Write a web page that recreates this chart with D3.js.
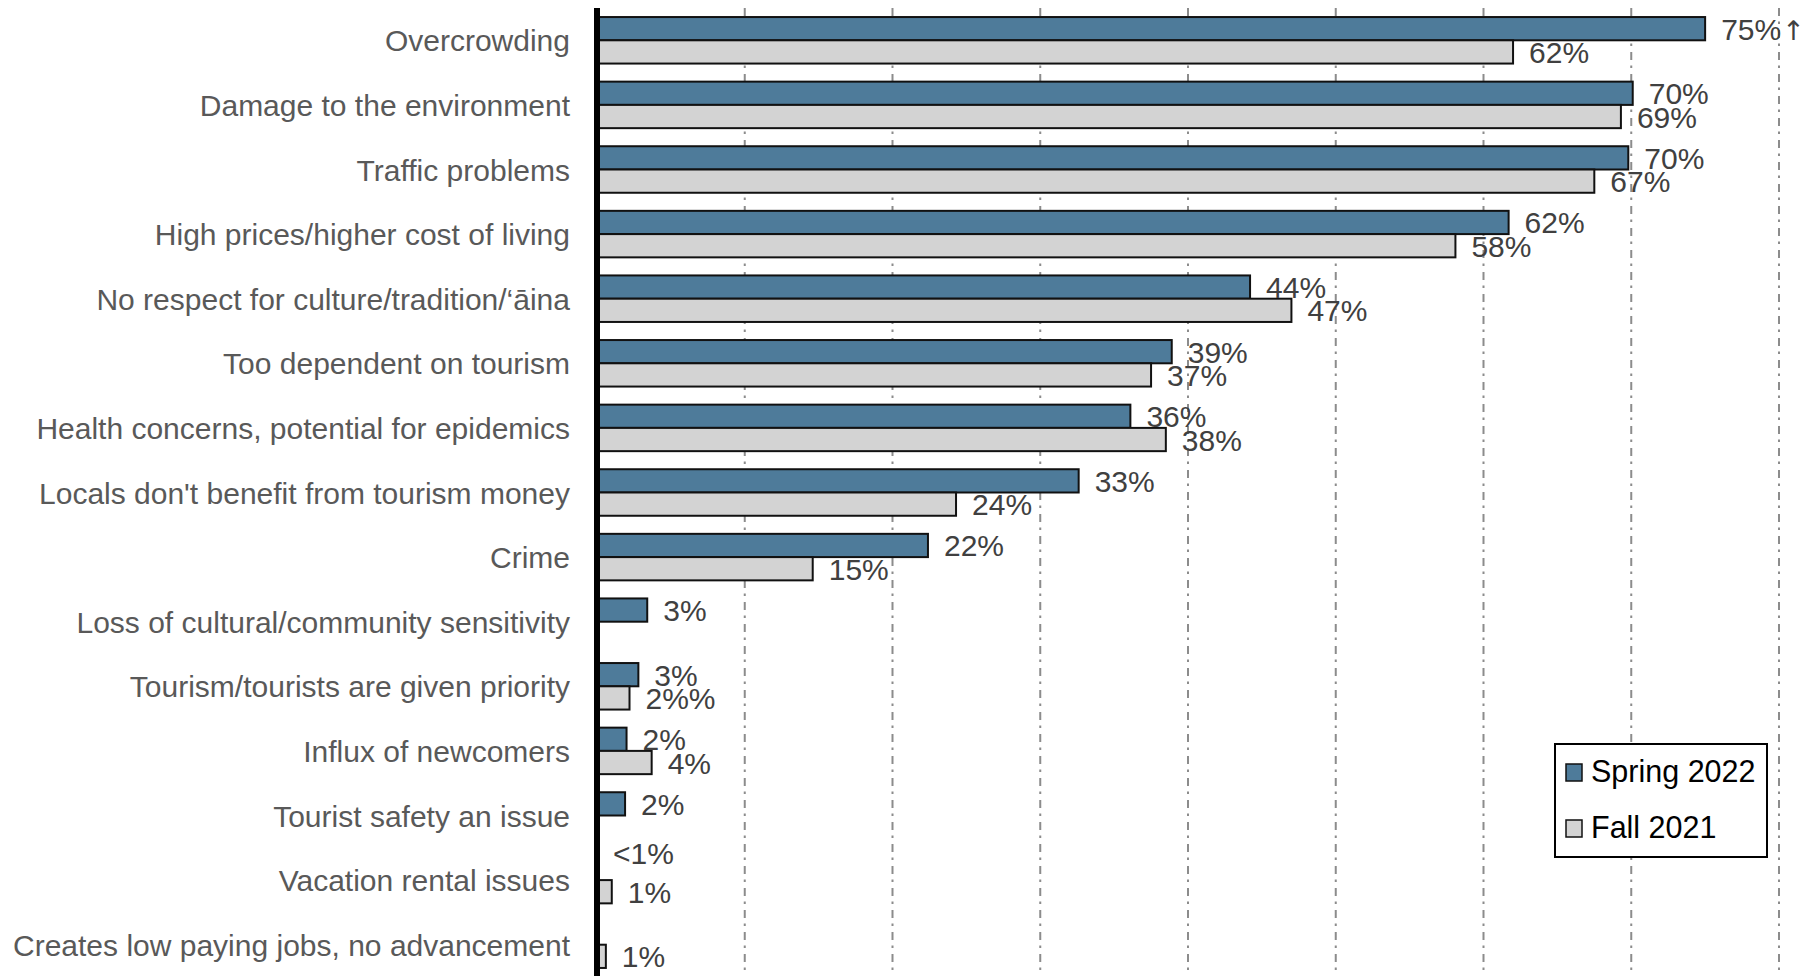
<!DOCTYPE html>
<html>
<head>
<meta charset="utf-8">
<script src="https://cdn.jsdelivr.net/npm/d3@7"></script>
<style>
html,body{margin:0;padding:0;background:#fff;}
svg{display:block;}
</style>
</head>
<body>
<script>
const categories = [
  "Overcrowding",
  "Damage to the environment",
  "Traffic problems",
  "High prices/higher cost of living",
  "No respect for culture/tradition/\u2018\u0101ina",
  "Too dependent on tourism",
  "Health concerns, potential for epidemics",
  "Locals don't benefit from tourism money",
  "Crime",
  "Loss of cultural/community sensitivity",
  "Tourism/tourists are given priority",
  "Influx of newcomers",
  "Tourist safety an issue",
  "Vacation rental issues",
  "Creates low paying jobs, no advancement"
];
const seriesNames = ["Spring 2022", "Fall 2021"];
const spring2022 = [75, 70.1, 69.8, 61.7, 44.2, 38.9, 36.1, 32.6, 22.4, 3.4, 2.8, 2.0, 1.9, 0, null];
const fall2021   = [62, 69.3, 67.5, 58.1, 47.0, 37.5, 38.5, 24.3, 14.6, null, 2.2, 3.7, null, 1.0, 0.6];
const springLabels = ["75%\u2191","70%","70%","62%","44%","39%","36%","33%","22%","3%","3%","2%","2%","<1%",null];
const fallLabels   = ["62%","69%","67%","58%","47%","37%","38%","24%","15%",null,"2%%","4%",null,"1%","1%"];
const gridTicks = [10, 20, 30, 40, 50, 60, 70, 80];

const W = 1808, H = 976;
const colors = ["#4E7B9A", "#D3D3D3"];

const svg = d3.select("body").append("svg").attr("width", W).attr("height", H);

const x = d3.scaleLinear().domain([0, 80]).range([597, 1779]);
const y = d3.scaleBand().domain(categories).range([8, 977]).paddingInner(0.28).paddingOuter(0.14);
const ySub = d3.scaleBand().domain(seriesNames).range([0, y.bandwidth()]);

// gridlines
svg.append("g").selectAll("line").data(gridTicks).join("line")
  .attr("x1", d => x(d)).attr("x2", d => x(d))
  .attr("y1", 8).attr("y2", H)
  .attr("stroke", "#8c8c8c").attr("stroke-width", 2)
  .attr("stroke-dasharray", "8,5.5,2.5,6");

const rows = categories.map((c, i) => ({
  cat: c,
  vals: [
    {s: seriesNames[0], v: spring2022[i], lab: springLabels[i], col: colors[0]},
    {s: seriesNames[1], v: fall2021[i], lab: fallLabels[i], col: colors[1]}
  ]
}));

const g = svg.append("g").selectAll("g").data(rows).join("g")
  .attr("transform", d => `translate(0,${y(d.cat)})`);

g.selectAll("rect").data(d => d.vals.filter(e => e.v !== null && e.v > 0)).join("rect")
  .attr("x", x(0))
  .attr("y", d => ySub(d.s))
  .attr("width", d => x(d.v) - x(0))
  .attr("height", ySub.bandwidth())
  .attr("fill", d => d.col)
  .attr("stroke", "#111")
  .attr("stroke-width", 2);

const vt = g.selectAll("text.val").data(d => d.vals.filter(e => e.lab !== null)).join("text")
  .attr("class", "val")
  .attr("x", d => x(d.v || 0) + 16)
  .attr("y", d => ySub(d.s) + ySub.bandwidth() / 2 + (d.v === 0 ? -4 : 11))
  .attr("font-family", "'Liberation Sans', Arial, sans-serif")
  .attr("font-size", 30)
  .attr("fill", "#404040");
vt.each(function(d) {
  const t = d3.select(this);
  const parts = d.lab.split("\u2191");
  t.append("tspan").text(parts[0]);
  if (parts.length > 1) {
    t.append("tspan").attr("font-family", "'DejaVu Sans', sans-serif")
      .attr("font-size", 27).attr("dx", 1).text("\u2191");
  }
});

// category labels
svg.append("g").selectAll("text").data(categories).join("text")
  .attr("x", 570)
  .attr("y", d => y(d) + y.bandwidth() / 2 + 11)
  .attr("text-anchor", "end")
  .attr("font-family", "'Liberation Sans', Arial, sans-serif")
  .attr("font-size", 30)
  .attr("fill", "#595959")
  .text(d => d);

// axis line
svg.append("line")
  .attr("x1", x(0)).attr("x2", x(0))
  .attr("y1", 8).attr("y2", H)
  .attr("stroke", "#000").attr("stroke-width", 6);

// legend
const lg = svg.append("g");
lg.append("rect").attr("x", 1555).attr("y", 744).attr("width", 212).attr("height", 113)
  .attr("fill", "#fff").attr("stroke", "#000").attr("stroke-width", 2);
const li = lg.selectAll("g").data(seriesNames).join("g")
  .attr("transform", (d, i) => `translate(1566,${764 + i * 56})`);
li.append("rect").attr("width", 16).attr("height", 17)
  .attr("fill", (d, i) => colors[i]).attr("stroke", "#111").attr("stroke-width", 1.5);
li.append("text").attr("x", 25).attr("y", 18)
  .attr("font-family", "'Liberation Sans', Arial, sans-serif")
  .attr("font-size", 30.5).attr("fill", "#000")
  .text(d => d);
</script>
</body>
</html>
